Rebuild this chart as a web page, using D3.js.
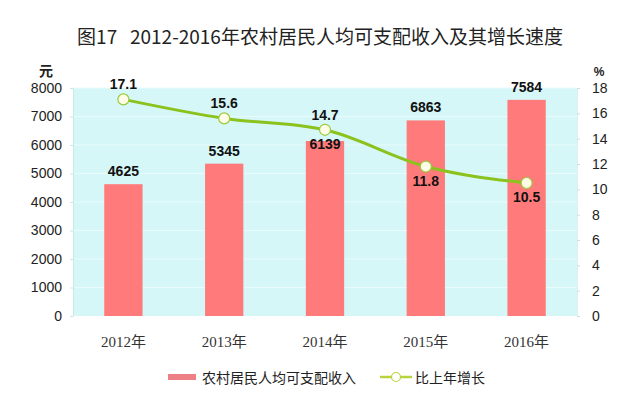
<!DOCTYPE html>
<html><head><meta charset="utf-8">
<script src="https://cdn.jsdelivr.net/npm/d3@7"></script>
<style>
body{margin:0;background:#fff;}
svg{display:block;}
</style></head>
<body>
<svg id="c" width="640" height="408"></svg>
<script>
const years = ["2012年","2013年","2014年","2015年","2016年"];
const income = [4625, 5345, 6139, 6863, 7584];
const growth = [17.1, 15.6, 14.7, 11.8, 10.5];
const leftTicks = [0,1000,2000,3000,4000,5000,6000,7000,8000];
const rightTicks = [0,2,4,6,8,10,12,14,16,18];
const title = "图17\u00a0\u00a0\u00a02012-2016年农村居民人均可支配收入及其增长速度";
const legendBar = "农村居民人均可支配收入";
const legendLine = "比上年增长";

const svg = d3.select("#c");
const m = {left:73, right:577, top:88, bottom:316};
const sans = "Arial, 'Liberation Sans', 'Noto Sans CJK SC', sans-serif";

const x = d3.scaleBand().domain(years).range([m.left, m.right]).paddingInner(0.62).paddingOuter(0.31);
const yL = d3.scaleLinear().domain([0,8000]).range([m.bottom, m.top]);
const yR = d3.scaleLinear().domain([0,18]).range([m.bottom, m.top]);

svg.append("text").attr("x",320).attr("y",44).attr("text-anchor","middle")
  .attr("font-family","'Noto Sans CJK SC', sans-serif").attr("font-size",19).attr("fill","#222").text(title);

svg.append("rect").attr("x",m.left).attr("y",m.top).attr("width",m.right-m.left).attr("height",m.bottom-m.top).attr("fill","#d5f7f8");

// gridlines
svg.append("g").selectAll("line").data(leftTicks.slice(1)).join("line")
  .attr("x1",m.left).attr("x2",m.right).attr("y1",d=>yL(d)).attr("y2",d=>yL(d))
  .attr("stroke","#e9fbfb").attr("stroke-width",1);

// left axis
const gL = svg.append("g").attr("transform",`translate(${m.left},0)`)
  .call(d3.axisLeft(yL).tickValues(leftTicks).tickSize(3).tickPadding(8).tickFormat(d3.format("d")));
gL.select(".domain").attr("stroke","#cde6e8");
gL.selectAll(".tick line").attr("stroke","#cde6e8");
gL.selectAll("text").attr("font-family",sans).attr("font-size",14).attr("fill","#222");

const gR = svg.append("g").attr("transform",`translate(${m.right},0)`)
  .call(d3.axisRight(yR).tickValues(rightTicks).tickSize(3).tickPadding(12));
gR.select(".domain").attr("stroke","#e3eef0");
gR.selectAll(".tick line").attr("stroke","#c8dfe2");
gR.selectAll("text").attr("font-family",sans).attr("font-size",14).attr("fill","#222");

svg.append("text").attr("x",46).attr("y",76).attr("text-anchor","middle")
  .attr("font-family","'Noto Sans CJK SC', sans-serif").attr("font-size",14).attr("font-weight","bold").attr("fill","#222").text("元");
svg.append("text").attr("x",599).attr("y",76).attr("text-anchor","middle")
  .attr("font-family",sans).attr("font-size",12).attr("font-weight","bold").attr("fill","#222").text("%");

// x labels
svg.append("g").selectAll("text").data(years).join("text")
  .attr("x",d=>x(d)+x.bandwidth()/2).attr("y",347).attr("text-anchor","middle")
  .attr("font-family","'Liberation Serif', 'Noto Sans CJK SC', serif").attr("font-size",15).attr("fill","#333").text(d=>d);

// bars
svg.append("g").selectAll("rect").data(income).join("rect")
  .attr("x",(d,i)=>x(years[i])).attr("width",x.bandwidth())
  .attr("y",d=>yL(d)).attr("height",d=>m.bottom-yL(d)).attr("fill","#ff7b7b");

// line
const cx = (d,i)=>x(years[i])+x.bandwidth()/2;
const line = d3.line().x((d,i)=>cx(d,i)).y(d=>yR(d)).curve(d3.curveMonotoneX);
svg.append("path").datum(growth).attr("d",line).attr("fill","none").attr("stroke","#8cc21e").attr("stroke-width",3);
svg.append("g").selectAll("circle").data(growth).join("circle")
  .attr("cx",cx).attr("cy",d=>yR(d)).attr("r",5.5).attr("fill","#fffde8").attr("stroke","#9acb3a").attr("stroke-width",1.2);

// bar labels (the 2014 label sits just inside the bar top, below the line)
svg.append("g").selectAll("text").data(income).join("text")
  .attr("x",(d,i)=>x(years[i])+x.bandwidth()/2).attr("y",(d,i)=> i===2 ? yL(d)+8 : yL(d)-8).attr("text-anchor","middle")
  .attr("font-family",sans).attr("font-size",14).attr("font-weight","bold").attr("fill","#111").text(d=>d);

svg.append("g").selectAll("text").data(growth).join("text")
  .attr("x",cx).attr("y",(d,i)=> i<3 ? yR(d)-10 : yR(d)+19).attr("text-anchor","middle")
  .attr("font-family",sans).attr("font-size",14).attr("font-weight","bold").attr("fill","#111").text(d=>d.toFixed(1));

// legend
const lg = svg.append("g");
lg.append("rect").attr("x",168).attr("y",374).attr("width",28).attr("height",6).attr("fill","#ee7f85");
lg.append("text").attr("x",202).attr("y",383).attr("font-family","'Noto Sans CJK SC', sans-serif").attr("font-size",14).attr("fill","#222").text(legendBar);
lg.append("line").attr("x1",380).attr("x2",412).attr("y1",377).attr("y2",377).attr("stroke","#b8d43c").attr("stroke-width",2.5);
lg.append("circle").attr("cx",396).attr("cy",377).attr("r",4.5).attr("fill","#fff").attr("stroke","#b8d43c").attr("stroke-width",1.2);
lg.append("text").attr("x",415).attr("y",383).attr("font-family","'Noto Sans CJK SC', sans-serif").attr("font-size",14).attr("fill","#222").text(legendLine);
</script>
</body></html>
